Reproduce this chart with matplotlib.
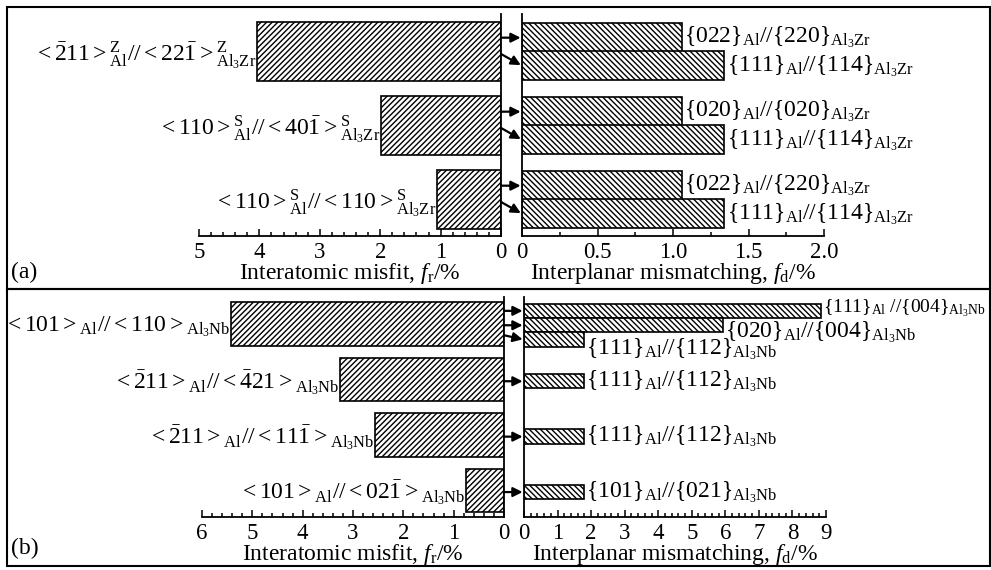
import matplotlib
matplotlib.use("Agg")
import matplotlib.pyplot as plt
from matplotlib.patches import Rectangle
from matplotlib.ticker import MultipleLocator, FixedLocator, FixedFormatter

plt.rcParams['font.family'] = ['Liberation Serif', 'DejaVu Serif']
plt.rcParams['mathtext.fontset'] = 'custom'
plt.rcParams['mathtext.rm'] = 'Liberation Serif'
plt.rcParams['mathtext.it'] = 'Liberation Serif:italic'
plt.rcParams['mathtext.bf'] = 'Liberation Serif:bold'
plt.rcParams['hatch.linewidth'] = 1.0

W, H = 991, 570

# panel (a): Al3Zr
misfit_a = [4.04, 1.99, 1.06]
mismatch_a = [[1.06, 1.34], [1.06, 1.34], [1.06, 1.34]]
dir_labels_a = [
    r"$<\bar{2}11>^{\mathrm{Z}}_{\mathrm{Al}}//<22\bar{1}>^{\mathrm{Z}}_{\mathrm{Al_3Zr}}$",
    r"$<110>^{\mathrm{S}}_{\mathrm{Al}}//<40\bar{1}>^{\mathrm{S}}_{\mathrm{Al_3Zr}}$",
    r"$<110>^{\mathrm{S}}_{\mathrm{Al}}//<110>^{\mathrm{S}}_{\mathrm{Al_3Zr}}$",
]
plane_labels_a = [
    [r"$\{022\}_{\mathrm{Al}}//\{220\}_{\mathrm{Al_3Zr}}$", r"$\{111\}_{\mathrm{Al}}//\{114\}_{\mathrm{Al_3Zr}}$"],
    [r"$\{020\}_{\mathrm{Al}}//\{020\}_{\mathrm{Al_3Zr}}$", r"$\{111\}_{\mathrm{Al}}//\{114\}_{\mathrm{Al_3Zr}}$"],
    [r"$\{022\}_{\mathrm{Al}}//\{220\}_{\mathrm{Al_3Zr}}$", r"$\{111\}_{\mathrm{Al}}//\{114\}_{\mathrm{Al_3Zr}}$"],
]

# panel (b): Al3Nb
misfit_b = [5.42, 3.26, 2.56, 0.76]
mismatch_b = [[8.85, 5.93, 1.79], [1.79], [1.79], [1.79]]
dir_labels_b = [
    r"$<101>_{\mathrm{Al}}//<110>_{\mathrm{Al_3Nb}}$",
    r"$<\bar{2}11>_{\mathrm{Al}}//<\bar{4}21>_{\mathrm{Al_3Nb}}$",
    r"$<\bar{2}11>_{\mathrm{Al}}//<11\bar{1}>_{\mathrm{Al_3Nb}}$",
    r"$<101>_{\mathrm{Al}}//<02\bar{1}>_{\mathrm{Al_3Nb}}$",
]
plane_labels_b = [
    [r"$\{111\}_{\mathrm{Al}}\ //\{004\}_{\mathrm{Al_3Nb}}$", r"$\{020\}_{\mathrm{Al}}//\{004\}_{\mathrm{Al_3Nb}}$",
     r"$\{111\}_{\mathrm{Al}}//\{112\}_{\mathrm{Al_3Nb}}$"],
    [r"$\{111\}_{\mathrm{Al}}//\{112\}_{\mathrm{Al_3Nb}}$"],
    [r"$\{111\}_{\mathrm{Al}}//\{112\}_{\mathrm{Al_3Nb}}$"],
    [r"$\{101\}_{\mathrm{Al}}//\{021\}_{\mathrm{Al_3Nb}}$"],
]

ticks_a_left = [5, 4, 3, 2, 1, 0]
ticks_a_right = [0, 0.5, 1.0, 1.5, 2.0]
ticklabels_a_right = ["0", "0.5", "1.0", "1.5", "2.0"]
ticks_b_left = [6, 5, 4, 3, 2, 1, 0]
ticks_b_right = [0, 1, 2, 3, 4, 5, 6, 7, 8, 9]

FS = 17

fig = plt.figure(figsize=(W / 100, H / 100), dpi=100)


def px_axes(x0, x1, y0, y1):
    return fig.add_axes([x0 / W, 1 - y1 / H, (x1 - x0) / W, (y1 - y0) / H])


def style_axis(ax, side):
    for s in ["top", "left", "right", "bottom"]:
        ax.spines[s].set_visible(False)
    ax.spines["bottom"].set_visible(True)
    ax.spines[side].set_visible(True)
    for s in ["bottom", side]:
        ax.spines[s].set_linewidth(1.3)
    ax.set_yticks([])
    ax.tick_params(axis="x", which="both", direction="in", top=False, labelsize=16.5, pad=4, width=1.1)
    ax.tick_params(axis="x", which="major", length=5)
    ax.tick_params(axis="x", which="minor", length=3)


def draw_panel(boxes, misfit, mismatch, dir_labels, plane_labels, lims, ticks, tick_labels, minors,
               bar_h, sub_h, sub_offsets, label_dy, label_fs, arrow_starts):
    ax_l = px_axes(*boxes[0])
    ax_r = px_axes(*boxes[1])
    n = len(misfit)
    ys = list(range(n))

    ax_l.barh(ys, misfit, height=bar_h, color="white", edgecolor="black", hatch="//////", linewidth=1.2)
    ax_l.set_xlim(lims[0], 0)
    ax_l.set_ylim(lims[2])
    style_axis(ax_l, "right")
    ax_l.xaxis.set_major_locator(FixedLocator(ticks[0]))
    ax_l.xaxis.set_minor_locator(MultipleLocator(minors[0]))
    ax_l.set_xlabel(r"Interatomic misfit, $f_{\mathrm{r}}$/%", fontsize=FS, labelpad=-1)
    for y, v, lab in zip(ys, misfit, dir_labels):
        ax_l.text(v + lims[0] * 0.002, y + 0.05, lab, ha="right", va="center", fontsize=FS)

    ax_r.set_xlim(0, lims[1])
    ax_r.set_ylim(lims[2])
    for g, vals in enumerate(mismatch):
        offs = sub_offsets[len(vals)]
        for k, v in enumerate(vals):
            yy = g + offs[k]
            ax_r.barh(yy, v, height=sub_h, color="white", edgecolor="black", hatch="\\\\\\\\\\\\", linewidth=1.2)
            ax_r.text(v + lims[1] * 0.008, yy + label_dy.get((g, k), 0.0), plane_labels[g][k],
                      ha="left", va="center", fontsize=label_fs.get((g, k), FS))
            y0 = g + arrow_starts.get((g, k), offs[k])
            ax_r.annotate("", xy=(0, yy), xycoords=ax_r.transData,
                          xytext=(0, y0), textcoords=ax_l.transData,
                          arrowprops=dict(arrowstyle="-|>", color="black", lw=1.6,
                                          mutation_scale=14, shrinkA=0, shrinkB=1))
    style_axis(ax_r, "left")
    ax_r.xaxis.set_major_locator(FixedLocator(ticks[1]))
    if tick_labels is not None:
        ax_r.xaxis.set_major_formatter(FixedFormatter(tick_labels))
    ax_r.xaxis.set_minor_locator(MultipleLocator(minors[1]))
    ax_r.set_xlabel(r"Interplanar mismatching, $f_{\mathrm{d}}$/%", fontsize=FS, labelpad=-1)
    return ax_l, ax_r


# (a)
draw_panel(
    boxes=[(199, 501, 14, 236), (522, 824, 14, 236)],
    misfit=misfit_a, mismatch=mismatch_a, dir_labels=dir_labels_a, plane_labels=plane_labels_a,
    lims=(5, 2.0, (2.49, -0.51)), ticks=(ticks_a_left, ticks_a_right), tick_labels=ticklabels_a_right,
    minors=(0.2, 0.25), bar_h=0.8, sub_h=0.39,
    sub_offsets={2: [-0.19, 0.19]}, label_dy={}, label_fs={},
    arrow_starts={(0, 1): 0.03, (1, 1): 0.03, (2, 1): 0.03},
)

# (b)
draw_panel(
    boxes=[(202, 504, 297, 517), (524, 826, 297, 517)],
    misfit=misfit_b, mismatch=mismatch_b, dir_labels=dir_labels_b, plane_labels=plane_labels_b,
    lims=(6, 9, (3.48, -0.49)), ticks=(ticks_b_left, ticks_b_right), tick_labels=None,
    minors=(0.2, 0.2), bar_h=0.79, sub_h=0.26,
    sub_offsets={3: [-0.24, 0.02, 0.28], 1: [0.03]}, label_dy={(0, 0): -0.05, (0, 1): 0.12, (0, 2): 0.17},
    label_fs={(0, 0): 14},
    arrow_starts={(0, 2): 0.2},
)

# panel frames
for y0, y1 in [(7, 289), (289, 566)]:
    fig.patches.append(Rectangle((7 / W, 1 - y1 / H), (990 - 7) / W, (y1 - y0) / H,
                                 transform=fig.transFigure, fill=False, edgecolor="black", linewidth=1.5))

fig.text(11 / W, 1 - 272 / H, "(a)", fontsize=FS, ha="left", va="center")
fig.text(11 / W, 1 - 548 / H, "(b)", fontsize=FS, ha="left", va="center")

fig.savefig("out.png", dpi=100)
